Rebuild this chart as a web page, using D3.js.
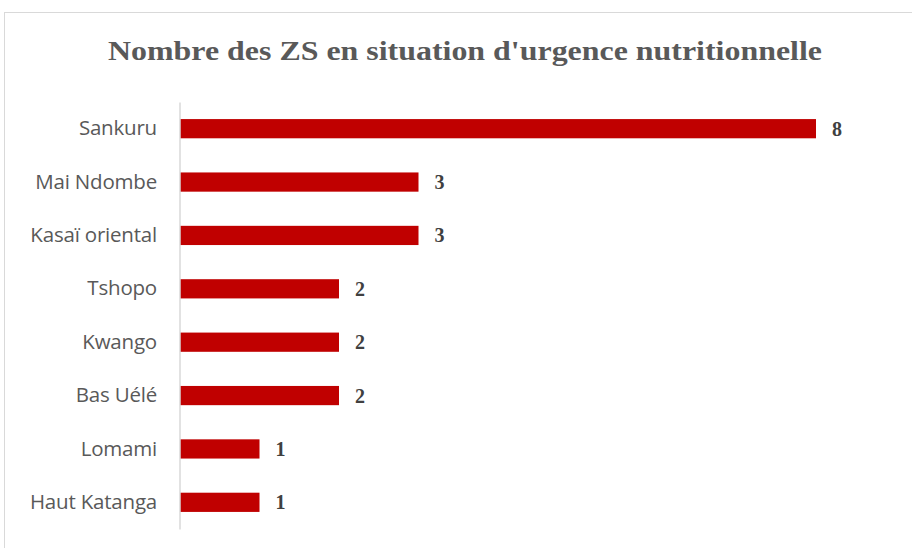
<!DOCTYPE html>
<html>
<head>
<meta charset="utf-8">
<script src="https://cdn.jsdelivr.net/npm/d3@7"></script>
<style>
  body { margin: 0; background: #fff; }
  svg { display: block; }
</style>
</head>
<body>
<div id="chart"></div>
<script>
// Data
const categories = ['Sankuru', 'Mai Ndombe', 'Kasaï oriental', 'Tshopo', 'Kwango', 'Bas Uélé', 'Lomami', 'Haut Katanga'];
const values = [8, 3, 3, 2, 2, 2, 1, 1];
const title = "Nombre des ZS en situation d'urgence nutritionnelle";

const W = 912, H = 548;
const margin = { top: 102, right: 96, bottom: 19, left: 180 };
const width = W - margin.left - margin.right,
    height = H - margin.top - margin.bottom;

const data = categories.map((c, i) => ({ label: c, value: values[i] }));

const svg = d3.select('#chart').append('svg')
    .attr('width', W)
    .attr('height', H);

// chart frame
svg.append('rect')
    .attr('x', 4.5).attr('y', 12.5)
    .attr('width', W + 20).attr('height', H + 20)
    .attr('fill', '#fff')
    .attr('stroke', '#d9d9d9')
    .attr('stroke-width', 1);

svg.append('text')
    .attr('x', 465).attr('y', 60)
    .attr('text-anchor', 'middle')
    .attr('font-family', '"Liberation Serif", serif')
    .attr('font-weight', 'bold')
    .attr('font-size', 27)
    .attr('fill', '#595959')
    .attr('textLength', 714)
    .attr('lengthAdjust', 'spacingAndGlyphs')
    .text(title);

const g = svg.append('g')
    .attr('transform', `translate(${margin.left},${margin.top})`);

const x = d3.scaleLinear().domain([0, 8]).range([0, 636]);
const y = d3.scaleBand().domain(categories).range([0, height]).paddingInner(0.64).paddingOuter(0.32);

g.selectAll('rect.bar')
    .data(data)
    .join('rect')
        .attr('class', 'bar')
        .attr('x', 0)
        .attr('y', d => y(d.label))
        .attr('width', d => x(d.value))
        .attr('height', y.bandwidth())
        .attr('fill', '#c00000');

g.selectAll('text.val')
    .data(data)
    .join('text')
        .attr('class', 'val')
        .attr('x', d => x(d.value) + 16)
        .attr('y', d => y(d.label) + y.bandwidth() / 2)
        .attr('dy', '0.35em')
        .attr('font-family', '"Liberation Serif", serif')
        .attr('font-weight', 'bold')
        .attr('font-size', 20)
        .attr('fill', '#404040')
        .text(d => d.value);

const yAxis = d3.axisLeft(y).tickSize(0).tickPadding(23);
const ax = g.append('g').call(yAxis);
ax.select('.domain').attr('stroke', '#d9d9d9').attr('stroke-width', 1.5).attr('transform', 'translate(-0.5,0)');
ax.selectAll('text')
    .attr('font-family', '"Open Sans", sans-serif')
    .attr('font-size', 20.5)
    .attr('fill', '#595959')
    .attr('letter-spacing', -0.2);
</script>
</body>
</html>
